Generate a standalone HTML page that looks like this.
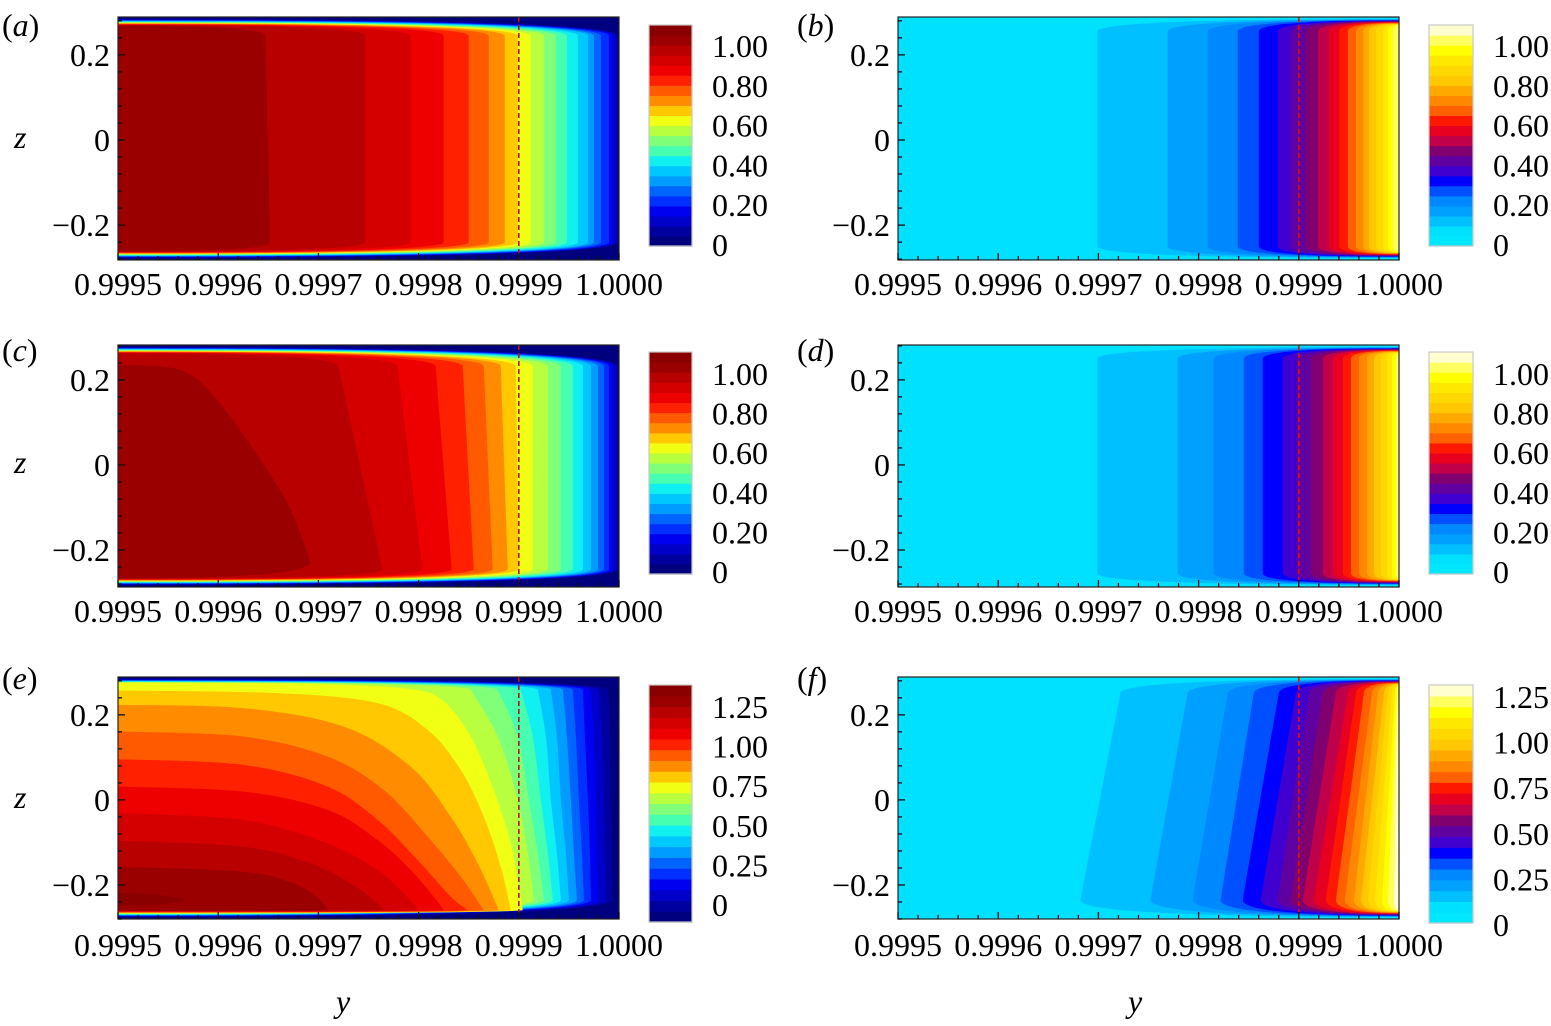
<!DOCTYPE html>
<html><head><meta charset="utf-8"><title>Contour panels</title>
<style>
html,body{margin:0;padding:0;background:#fff;}
svg{display:block;font-family:"Liberation Serif",serif;}
</style></head>
<body>
<svg id="fig" width="1551" height="1026" viewBox="0 0 1551 1026" xmlns="http://www.w3.org/2000/svg">
<defs id="defs"></defs>
<text x="336" y="1012" font-size="32" font-style="italic">y</text>
<text x="1128" y="1012" font-size="32" font-style="italic">y</text>
</svg>
<script>
// ---- data (y positions of contour boundaries, lowest level first) ----
const aTop=[0.999999,0.999997,0.999994,0.99999,0.999982,0.999975,0.999969,0.999959,0.999948,0.999937,0.999925,0.999912,0.999899,0.999886,0.99987,0.99985,0.999825,0.999792,0.999747,0.999647];
const aBot=[0.999999,0.999997,0.999994,0.99999,0.999982,0.999975,0.999969,0.999959,0.999948,0.999937,0.999925,0.999912,0.999899,0.999886,0.99987,0.99985,0.999825,0.999792,0.999747,0.999652];
const bTop=[0.999699,0.999769,0.999809,0.999839,0.99986,0.999879,0.999892,0.999907,0.999919,0.99993,0.99994,0.999949,0.999957,0.999964,0.99997,0.999977,0.999984,0.999989,0.999994,0.999999];
const bBot=[0.999699,0.999769,0.999809,0.999839,0.99986,0.999879,0.999892,0.999907,0.999919,0.99993,0.99994,0.999949,0.999957,0.999964,0.99997,0.999977,0.999984,0.999989,0.999994,0.999999];
const cTop=[0.999999,0.999997,0.999994,0.99999,0.999985,0.999979,0.999972,0.999964,0.999954,0.999942,0.999929,0.999914,0.999897,0.999882,0.999865,0.999844,0.999817,0.999779,0.99972];
const cBot=[0.999999,0.999997,0.999994,0.99999,0.999985,0.999979,0.999972,0.999964,0.999954,0.999942,0.999929,0.999914,0.9999,0.999889,0.999874,0.999855,0.999833,0.999804,0.999764];
const cInnerY=[0.9995,0.999562,0.999599,0.999649,0.999674,0.999692];
const cInnerZ=[0.235,0.2235,0.153,-0.012,-0.113,-0.228];
const dTop=[0.999699,0.999779,0.999815,0.999845,0.999864,0.999884,0.999898,0.999912,0.999924,0.999934,0.999944,0.999952,0.99996,0.999968,0.999975,0.999982,0.999988,0.999993,0.999997,0.999999];
const dBot=[0.999699,0.999779,0.999815,0.999845,0.999864,0.999884,0.999898,0.999912,0.999924,0.999934,0.999944,0.999952,0.99996,0.999968,0.999975,0.999982,0.999988,0.999993,0.999997,0.999999];
const eRightZ=[0.2588,0.149,0,-0.1255,-0.2353];
const eRightY=[
[0.999989,0.999991,0.999992,0.999993,0.999994],
[0.99998,0.999983,0.999985,0.999986,0.999987],
[0.999972,0.999975,0.999977,0.999978,0.999979],
[0.999964,0.999966,0.999969,0.999971,0.999972],
[0.999954,0.999957,0.99996,0.999963,0.999965],
[0.999944,0.999948,0.999952,0.999955,0.999958],
[0.999932,0.999938,0.999942,0.999947,0.99995],
[0.999919,0.999927,0.999932,0.999938,0.999942],
[0.999902,0.999914,0.999922,0.999929,0.999934],
[0.999879,0.999899,0.99991,0.999919,0.999925],
[0.999852,0.999879,0.999899,0.999909,0.999915]];
const eLeftY=[
[0.9995,0.999692,0.999792,0.999825,0.999852,0.999875,0.999892,0.9999,0.999904],
[0.9995,0.999659,0.999759,0.999809,0.999842,0.999865,0.999882,0.999892],
[0.9995,0.999625,0.999725,0.999792,0.999832,0.999859,0.99988],
[0.9995,0.999625,0.999709,0.999765,0.999809,0.999842,0.999865],
[0.9995,0.999625,0.999709,0.999759,0.999799,0.999832,0.999849],
[0.9995,0.999625,0.999709,0.999759,0.999792,0.999815,0.999825],
[0.9995,0.999625,0.999709,0.999759,0.999785,0.9998],
[0.9995,0.999625,0.999692,0.999732,0.999759,0.999765],
[0.9995,0.999625,0.999675,0.999702,0.999709],
[0.9995,0.999542,0.999567,0.999542,0.9995]];
const eLeftZ=[
[0.2761,0.2729,0.2604,0.2314,0.149,0.0235,-0.102,-0.2039,-0.2588],
[0.2573,0.251,0.2275,0.1647,0.0706,-0.0392,-0.1569,-0.2588],
[0.2235,0.2157,0.1725,0.0784,-0.0392,-0.149,-0.2588],
[0.1608,0.149,0.102,0.0235,-0.0863,-0.1804,-0.2588],
[0.0957,0.0824,0.0314,-0.047,-0.1412,-0.2275,-0.2588],
[0.0314,0.0196,-0.0235,-0.0941,-0.1647,-0.2275,-0.2588],
[-0.0314,-0.047,-0.102,-0.1647,-0.2196,-0.2588],
[-0.0957,-0.1098,-0.149,-0.196,-0.2431,-0.2588],
[-0.1569,-0.1686,-0.196,-0.2353,-0.2588],
[-0.218,-0.2235,-0.2353,-0.2455,-0.2494]];
const fTop=[0.999722,0.999789,0.999829,0.999855,0.99988,0.999897,0.99991,0.999924,0.999937,0.999949,0.999957,0.999965,0.999973,0.999979,0.999985,0.999989,0.999993,0.999996,0.999998,0.999999];
const fBot=[0.999682,0.999752,0.999794,0.999822,0.999844,0.999862,0.999879,0.999892,0.999904,0.999915,0.999927,0.999937,0.999946,0.999955,0.999962,0.999969,0.999976,0.999983,0.999989,0.999995];
const xTickValues=[0.9995,0.9996,0.9997,0.9998,0.9999,1.0000];
const xTickLabels=["0.9995","0.9996","0.9997","0.9998","0.9999","1.0000"];
const zTickValues=[0.2,0,-0.2];
const zTickLabels=["0.2","0","\u22120.2"];
const cbTicks1=[0,0.2,0.4,0.6,0.8,1.0];
const cbLabels1=["0","0.20","0.40","0.60","0.80","1.00"];
const cbTicks2=[0,0.25,0.5,0.75,1.0,1.25];
const cbLabels2=["0","0.25","0.50","0.75","1.00","1.25"];
const dashedAt=0.9999;

// ---- palettes (styles) ----
const JET=['#00007f','#00009f','#0000c8','#0000f0','#0030ff','#0064ff','#009cff','#00c8ff','#10f0f0','#46ffb0','#80ff78','#b8ff40','#f0ff14','#ffc800','#ff8c00','#ff5a00','#ff2000','#ee0000','#d40000','#b80000','#9b0000','#8a0000'];
const HOT=['#00e8ff','#00e0ff','#00c0ff','#00a0ff','#0088ff','#0050ff','#0000ff','#4000d0','#6000a0','#800070','#c00048','#e80020','#ff1800','#ff6000','#ff8800','#ffa800','#ffc800','#ffd800','#ffe800','#ffff00','#ffff60','#ffffd0'];

function vcurves(top,bot,zt,zb){return top.map((t,i)=>[[t,zt],[bot[i],zb]]);}
function zipc(ys,zs){return ys.map((row,i)=>row.map((y,j)=>[y,Array.isArray(zs[0])?zs[i][j]:zs[j]]));}
const cCurves=vcurves(cTop,cBot,0.232,-0.245).concat([cInnerY.map((y,i)=>[y,cInnerZ[i]])]);
const eCurves=zipc(eRightY,eRightZ).concat(zipc(eLeftY,eLeftZ));

const panels=[
{id:'a',box:{x:118,y:17,w:501,h:243},zd:[-0.282,0.289],side:'left',pal:JET,base:0,curves:vcurves(aTop,aBot,0.245,-0.24),cb:{x:649,y:25,w:43,h:221,min:-0.005,max:1.1055},ct:cbTicks1,cl:cbLabels1,dash:'#b01818',lab:'a',labY:36,xlabY:295},
{id:'b',box:{x:898,y:17,w:501,h:243},zd:[-0.282,0.289],side:'right',pal:HOT,base:1,curves:vcurves(bTop,bBot,0.255,-0.25),cb:{x:1429,y:25,w:44,h:221,min:-0.005,max:1.1055},ct:cbTicks1,cl:cbLabels1,dash:'#e01000',lab:'b',labY:36,xlabY:295},
{id:'c',box:{x:118,y:345,w:501,h:242},zd:[-0.287,0.282],side:'left',pal:JET,base:0,curves:cCurves,cb:{x:649,y:352,w:43,h:222,min:-0.01,max:1.111},ct:cbTicks1,cl:cbLabels1,dash:'#b01818',lab:'c',labY:361,xlabY:622},
{id:'d',box:{x:898,y:345,w:501,h:242},zd:[-0.287,0.282],side:'right',pal:HOT,base:1,curves:vcurves(dTop,dBot,0.25,-0.255),cb:{x:1429,y:352,w:44,h:222,min:-0.01,max:1.111},ct:cbTicks1,cl:cbLabels1,dash:'#e01000',lab:'d',labY:361,xlabY:622},
{id:'e',box:{x:118,y:677,w:501,h:242},zd:[-0.28,0.289],side:'left',pal:JET,base:0,curves:eCurves,cb:{x:649,y:685,w:43,h:237,min:-0.107,max:1.389},ct:cbTicks2,cl:cbLabels2,dash:'#b01818',lab:'e',labY:689,xlabY:956},
{id:'f',box:{x:898,y:677,w:501,h:242},zd:[-0.28,0.289],side:'right',pal:HOT,base:1,curves:vcurves(fTop,fBot,0.251,-0.2353),cb:{x:1429,y:685,w:44,h:238,min:0.011,max:1.316},ct:cbTicks2,cl:cbLabels2,dash:'#e01000',lab:'f',labY:689,xlabY:956}
];

const NS='http://www.w3.org/2000/svg';
const svg=document.getElementById('fig');
const defs=document.getElementById('defs');
function mk(tag,attrs,parent){const e=document.createElementNS(NS,tag);for(const k in attrs)e.setAttribute(k,attrs[k]);parent.appendChild(e);return e;}

panels.forEach(p=>{
  const B=p.box;
  const xs=y=>B.x+(y-0.9995)/0.0005*B.w;
  const zs=z=>B.y+(p.zd[1]-z)/(p.zd[1]-p.zd[0])*B.h;
  const g=mk('g',{},svg);
  
  
  const cp=mk('clipPath',{id:'clip-'+p.id},defs);
  mk('rect',{x:B.x,y:B.y,width:B.w,height:B.h},cp);
  const plot=mk('g',{'clip-path':'url(#clip-'+p.id+')'},g);
  
  
  const bg=mk('rect',{x:B.x,y:B.y,width:B.w,height:B.h,fill:p.pal[p.base]},plot);
  
  
  const edgeX=p.side==='left'?B.x:B.x+B.w;
  const n=p.curves.length;
  p.curves.forEach((c,k)=>{
    const pts=c.map(q=>[xs(q[0]),zs(q[1])]);
    const del=0.002+0.016*(k+1)/n;
    const yt=zs(p.zd[1]-0.002-del), yb=zs(p.zd[0]+0.002+del);
    let d;
    const p0=pts[0], pn=pts[pts.length-1];
    if(Math.abs(p0[0]-edgeX)<1.5) d='M'+p0[0]+','+p0[1];
    else d='M'+edgeX+','+yt+' Q'+p0[0]+','+yt+' '+p0[0]+','+p0[1];
    for(let i=0;i<pts.length-1;i++){
      const a0=pts[i-1]||pts[i],a1=pts[i],a2=pts[i+1],a3=pts[i+2]||a2;
      const c1=[a1[0]+(a2[0]-a0[0])/6,a1[1]+(a2[1]-a0[1])/6];
      const c2=[a2[0]-(a3[0]-a1[0])/6,a2[1]-(a3[1]-a1[1])/6];
      d+=' C'+c1[0]+','+c1[1]+' '+c2[0]+','+c2[1]+' '+a2[0]+','+a2[1];
    }
    if(Math.abs(pn[0]-edgeX)>=1.5) d+=' Q'+pn[0]+','+yb+' '+edgeX+','+yb;
    d+=' Z';
    const el=mk('path',{d:d,fill:p.pal[Math.min(p.base+k+1,p.pal.length-1)]},plot);
    
    
  });
  const dl=mk('line',{x1:xs(dashedAt),x2:xs(dashedAt),y1:B.y,y2:B.y+B.h,stroke:p.dash,'stroke-width':1.6,'stroke-dasharray':'5,3'},g);
  
  
  const fr=mk('rect',{x:B.x,y:B.y,width:B.w,height:B.h,fill:'none',stroke:'#222','stroke-width':1.2},g);
  
  
  for(let i=0;i<=25;i++){
    const x=B.x+i*B.w/25; const L=(i%5===0)?7:4;
    const t=mk('line',{x1:x,x2:x,y1:B.y+B.h,y2:B.y+B.h-L,stroke:'#111','stroke-width':1.3},g);
    
    
  }
  for(let i=-7;i<=7;i++){
    const z=i*0.04; const y=zs(z); const L=(i%5===0)?7:4;
    const t=mk('line',{x1:B.x,x2:B.x+L,y1:y,y2:y,stroke:'#111','stroke-width':1.3},g);
    
    
  }
  xTickValues.forEach((v,i)=>{
    const t=mk('text',{x:xs(v),y:p.xlabY,'font-size':32,'text-anchor':'middle'},g);
    t.textContent=xTickLabels[i];
    
    
  });
  zTickValues.forEach((v,i)=>{
    const t=mk('text',{x:B.x-8,y:zs(v)+11,'font-size':32,'text-anchor':'end'},g);
    t.textContent=zTickLabels[i];
    
    
  });
  if(p.side==='left'){
    const zt=mk('text',{x:14,y:zs(0)+8,'font-size':32,'font-style':'italic'},g);
    zt.textContent='z';
    
    
  }
  const lab=mk('text',{x:B.x-(p.side==='left'?116:101),y:p.labY,'font-size':32},g);
  
  
  lab.appendChild(document.createTextNode('('));
  const ts=mk('tspan',{'font-style':'italic'},lab);
  ts.textContent=p.lab;
  lab.appendChild(document.createTextNode(')'));
  const C=p.cb; const nb=p.pal.length;
  const cbg=mk('g',{},g);
  
  
  for(let i=0;i<nb;i++){
    const r=mk('rect',{x:C.x,y:C.y+C.h-(i+1)*C.h/nb,width:C.w,height:C.h/nb+0.6,fill:p.pal[i]},cbg);
    
    
  }
  const cf=mk('rect',{x:C.x,y:C.y,width:C.w,height:C.h,fill:'none',stroke:'#c8c8c8','stroke-width':1.2},cbg);
  
  
  const cs=v=>C.y+(C.max-v)/(C.max-C.min)*C.h;
  p.ct.forEach((v,i)=>{
    const t=mk('text',{x:C.x+C.w+20,y:cs(v)+11,'font-size':32},cbg);
    t.textContent=p.cl[i];
    
    
  });
});
</script>
</body></html>
